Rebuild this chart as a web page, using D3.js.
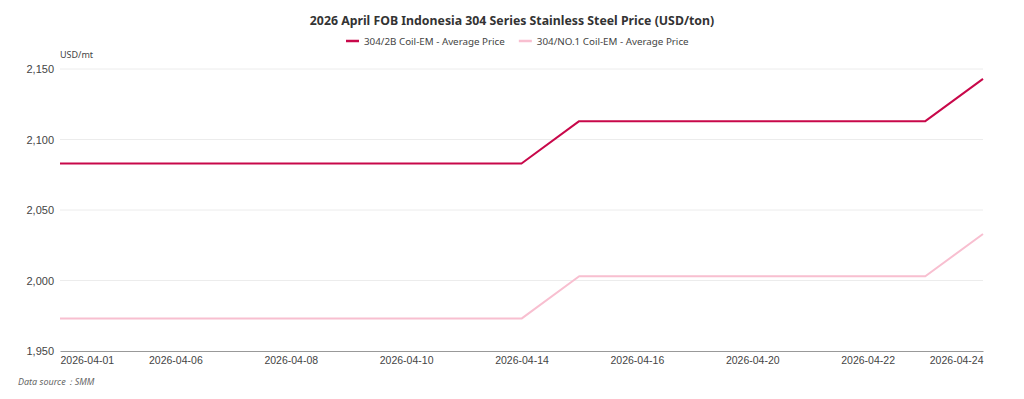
<!DOCTYPE html>
<html>
<head>
<meta charset="utf-8">
<script src="https://cdn.jsdelivr.net/npm/d3@7"></script>
<style>
  body { margin: 0; background: #fff; }
  svg { font-family: "Noto Sans", "Open Sans", sans-serif; }
</style>
</head>
<body>
<div id="chart"></div>
<script>
// trading days in April 2026 (no 04-03, weekends skipped)
const dates = ['2026-04-01', '2026-04-02', '2026-04-06', '2026-04-07', '2026-04-08', '2026-04-09',
    '2026-04-10', '2026-04-13', '2026-04-14', '2026-04-15', '2026-04-16', '2026-04-17',
    '2026-04-20', '2026-04-21', '2026-04-22', '2026-04-23', '2026-04-24'];
const coil2B = [2083, 2083, 2083, 2083, 2083, 2083, 2083, 2083, 2083,
    2113, 2113, 2113, 2113, 2113, 2113, 2113, 2143];
const coilNo1 = [1973, 1973, 1973, 1973, 1973, 1973, 1973, 1973, 1973,
    2003, 2003, 2003, 2003, 2003, 2003, 2003, 2033];
const seriesNames = ['304/2B Coil-EM - Average Price', '304/NO.1 Coil-EM - Average Price'];
const seriesColors = ['#c8084a', '#f8bfd0'];
const yTicks = [1950, 2000, 2050, 2100, 2150];

var width = 1024;
var height = 399;
const margins = {top: 69, bottom: 48, left: 60, right: 41};

var svg = d3.select('#chart')
    .append('svg')
    .attr('width', width)
    .attr('height', height);

let x_scale = d3.scalePoint()
    .domain(dates)
    .range([margins.left, width - margins.right]);

let y_scale = d3.scaleLinear()
    .domain([1950, 2150])
    .range([height - margins.bottom, margins.top]);

// grid lines
svg.append('g')
    .selectAll('line')
    .data(yTicks.slice(1))
    .enter()
    .append('line')
    .attr('x1', margins.left)
    .attr('x2', width - margins.right)
    .attr('y1', d => y_scale(d))
    .attr('y2', d => y_scale(d))
    .attr('stroke', '#ececec')
    .attr('stroke-width', 1);

// y axis labels
let y_axis = d3.axisLeft(y_scale)
    .tickValues(yTicks)
    .tickFormat(d3.format(','))
    .tickSize(0)
    .tickPadding(6);

let yg = svg.append('g')
    .attr('transform', 'translate(' + margins.left + ',0)')
    .call(y_axis);
yg.select('.domain').remove();
yg.selectAll('text')
    .attr('font-size', '11px')
    .attr('fill', '#444');

// x axis
let x_axis = d3.axisBottom(x_scale)
    .tickValues(dates.filter((d, i) => i % 2 === 0))
    .tickSize(0)
    .tickPadding(6);

let xg = svg.append('g')
    .attr('transform', 'translate(0,' + (height - margins.bottom) + ')')
    .call(x_axis);
xg.select('.domain').attr('stroke', '#999');
xg.selectAll('text')
    .attr('font-size', '10.5px')
    .attr('fill', '#444')
    .attr('text-anchor', (d, i, n) => i === 0 ? 'start' : (i === n.length - 1 ? 'end' : 'middle'));

// lines
let line = d3.line()
    .x((d, i) => x_scale(dates[i]))
    .y(d => y_scale(d));

[coilNo1, coil2B].forEach(function(values, k) {
    svg.append('path')
        .datum(values)
        .attr('fill', 'none')
        .attr('stroke', seriesColors[1 - k])
        .attr('stroke-width', 2)
        .attr('stroke-linejoin', 'round')
        .attr('d', line);
});

// title
svg.append('text')
    .attr('x', width / 2)
    .attr('y', 25)
    .attr('text-anchor', 'middle')
    .attr('font-size', '12.3px')
    .attr('font-weight', 'bold')
    .attr('fill', '#333')
    .text('2026 April FOB Indonesia 304 Series Stainless Steel Price (USD/ton)');

// legend
let legend = svg.append('g').attr('transform', 'translate(346,41)');
let lx = 0;
seriesNames.forEach(function(name, i) {
    let g = legend.append('g').attr('transform', 'translate(' + lx + ',0)');
    g.append('line')
        .attr('x1', 0).attr('x2', 13)
        .attr('y1', 0).attr('y2', 0)
        .attr('stroke', seriesColors[i])
        .attr('stroke-width', 2.5);
    let t = g.append('text')
        .attr('x', 18)
        .attr('y', 3.5)
        .attr('font-size', '9.8px')
        .attr('fill', '#444')
        .text(name);
    lx += 18 + t.node().getComputedTextLength() + 14;
});

// unit label
svg.append('text')
    .attr('x', margins.left)
    .attr('y', 58)
    .attr('font-size', '9px')
    .attr('fill', '#444')
    .text('USD/mt');

// source
svg.append('text')
    .attr('x', 18)
    .attr('y', 385)
    .attr('font-size', '9px')
    .attr('font-style', 'italic')
    .attr('fill', '#666')
    .text('Data source：SMM');
</script>
</body>
</html>
